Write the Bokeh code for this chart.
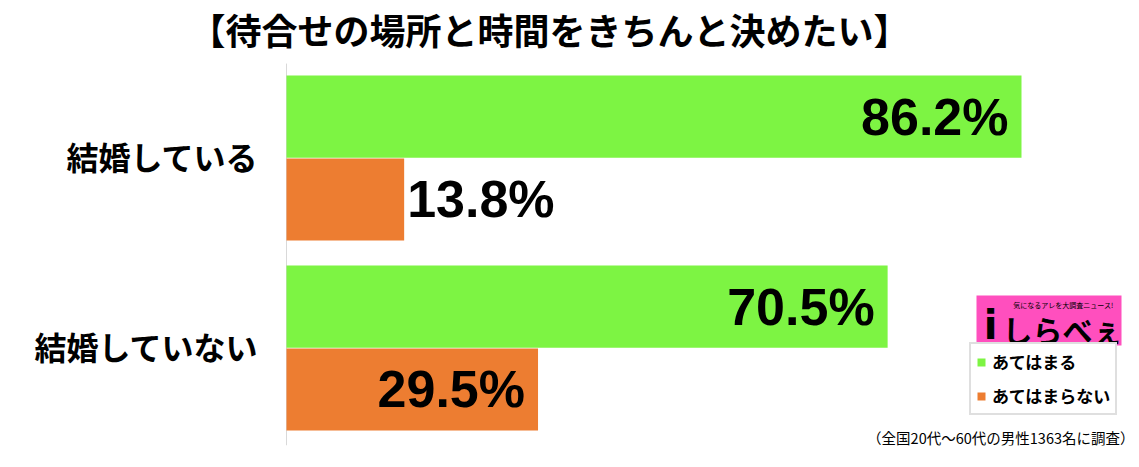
from bokeh.plotting import figure
from bokeh.models import (ColumnDataSource, Range1d, Label,
                          BoxAnnotation, Legend, LegendItem)
from bokeh.core.properties import value
from bokeh.embed import file_html
from bokeh.resources import INLINE

# dados
categorias = ["結婚している", "結婚していない"]
series = ["あてはまる", "あてはまらない"]
atehamaru = [86.2, 70.5]
atehamaranai = [13.8, 29.5]
cores = ["#7DF443", "#ED7D31"]

titulo = "【待合せの場所と時間をきちんと決めたい】"
nota = "（全国20代～60代の男性1363名に調査）"

JP = "Noto Sans CJK JP"

# posição de cada categoria (a primeira fica em cima)
pos = [len(categorias) - 1 - i for i in range(len(categorias))]
y_ini, y_fim = -0.513, 1.829
eixo_topo = 1.497

p = figure(width=1135, height=463, y_range=Range1d(y_ini, y_fim),
           x_range=Range1d(-33.54, 99.57), output_backend="svg",
           toolbar_location=None, min_border_left=0, min_border_right=0,
           min_border_top=0, min_border_bottom=18)
p.outline_line_color = None
p.grid.visible = False
p.xaxis.visible = False
p.yaxis.visible = False

# linha do eixo vertical e nomes das categorias
p.segment(x0=0, x1=0, y0=y_ini, y1=eixo_topo, line_color="#d9d9d9", line_width=1)
p.text(x=0, y=pos, text=categorias, text_align="right", text_baseline="middle",
       x_offset=-28, y_offset=-2, text_font=value(JP), text_font_style="bold",
       text_font_size="32px", text_color="black")

renderers = []
for nome, vals, cor, off in [(series[0], atehamaru, cores[0], 0.218),
                             (series[1], atehamaranai, cores[1], -0.218)]:
    ys = [pp + off for pp in pos]
    src = ColumnDataSource(dict(y=ys, v=vals))
    r = p.hbar(y="y", left=0, right="v", height=0.432,
               fill_color=cor, line_color=None, source=src)
    renderers.append((nome, r))

    # rótulos: dentro da barra se couber, senão fora
    dentro = [i for i, v in enumerate(vals) if v > 20]
    fora = [i for i, v in enumerate(vals) if v <= 20]
    for idx, align, xo in [(dentro, "right", -13), (fora, "left", 3)]:
        if not idx:
            continue
        s = ColumnDataSource(dict(y=[ys[i] for i in idx],
                                  v=[vals[i] for i in idx],
                                  t=["%.1f%%" % vals[i] for i in idx]))
        p.text(x="v", y="y", text="t", source=s,
               text_align=align, text_baseline="middle", x_offset=xo,
               text_font_size="52px", text_font_style="bold",
               text_font=value("Liberation Sans"), text_color="black")

# título
p.add_layout(Label(x=549, y=417, x_units="screen", y_units="screen", text=titulo,
                   text_align="center", text_baseline="middle", text_font=JP,
                   text_font_style="bold", text_font_size="36px", text_color="black"))

# logo
p.add_layout(BoxAnnotation(left=976, right=1121, bottom=100, top=150,
                           left_units="screen", right_units="screen",
                           bottom_units="screen", top_units="screen",
                           fill_color="#FF4FBE", fill_alpha=1.0, line_color=None))
p.add_layout(Label(x=990, y=121, x_units="screen", y_units="screen", text="i",
                   text_align="center", text_baseline="middle", text_font="DejaVu Sans",
                   text_font_style="bold", text_font_size="40px", text_color="black"))
p.add_layout(Label(x=1002, y=117, x_units="screen", y_units="screen", text="しらべぇ",
                   text_align="left", text_baseline="middle", text_font=JP,
                   text_font_style="bold", text_font_size="30px", text_color="black"))
p.add_layout(Label(x=1063, y=141, x_units="screen", y_units="screen",
                   text="気になるアレを大調査ニュース!", text_align="center",
                   text_baseline="middle", text_font=JP, text_font_size="7px",
                   text_color="black"))

# legenda
leg = Legend(items=[LegendItem(label=n, renderers=[r]) for n, r in renderers],
             location=(969, 30), orientation="vertical",
             label_text_font=JP, label_text_font_style="bold",
             label_text_font_size="17px", label_text_color="black",
             glyph_width=10, glyph_height=10,
             label_height=22, spacing=9, padding=5, margin=0,
             label_standoff=6, border_line_color="#bfbfbf",
             border_line_width=2, background_fill_alpha=1.0)
p.add_layout(leg, "center")

# nota de rodapé
p.add_layout(Label(x=1134, y=8, x_units="screen", y_units="screen", text=nota,
                   text_align="right", text_baseline="middle", text_font=JP,
                   text_font_size="14.5px", text_color="black"))

open("out.html", "w").write(file_html(p, INLINE))
